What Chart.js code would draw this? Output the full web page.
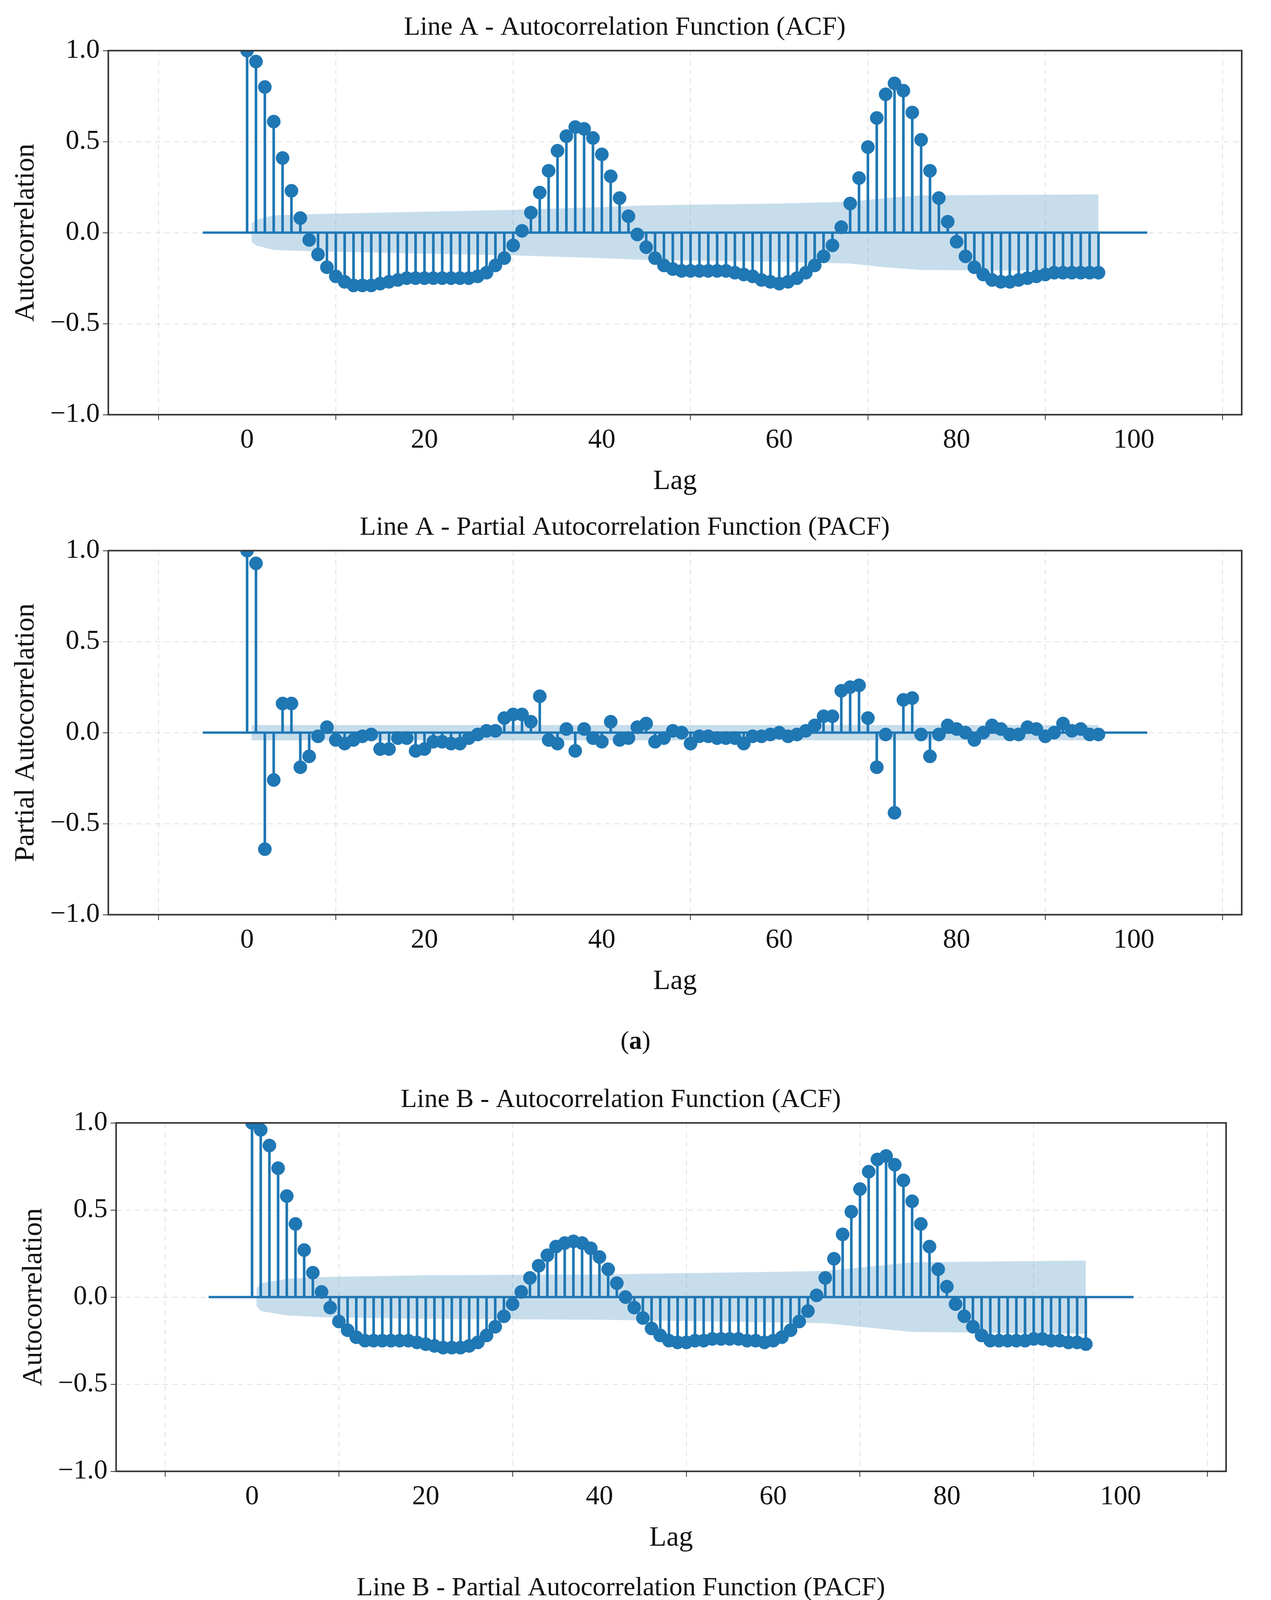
<!DOCTYPE html>
<html>
<head>
<meta charset="utf-8">
<script src="https://cdn.jsdelivr.net/npm/chart.js@4/dist/chart.umd.min.js"></script>
<style>
  body { margin: 0; background: #fff; width: 3255px; height: 5477px; position: relative; font-family: "Liberation Serif", serif; }
  .box { position: absolute; left: 0; }
  .cap { position: absolute; left: 0; width: 3255px; text-align: center; font-size: 66px; color: #111; }
</style>
</head>
<body>
<div class="box" style="top:10px"><canvas id="c1" width="3220" height="1270"></canvas></div>
<div class="box" style="top:1290px"><canvas id="c2" width="3220" height="1270"></canvas></div>
<div class="cap" style="top:2625px">(<b>a</b>)</div>
<div class="box" style="top:2755px"><canvas id="c3" width="3220" height="1230"></canvas></div>
<div class="box" style="top:4005px"><canvas id="c4" width="3220" height="1230"></canvas></div>
<div class="cap" style="top:5305px">(<b>b</b>)</div>
<script>
// lags 0..96
const lags = Array.from({ length: 97 }, (_, i) => i);

const acfA = [1.0, 0.94, 0.80, 0.61, 0.41, 0.23, 0.08, -0.04, -0.12, -0.19, -0.24, -0.27, -0.29, -0.29, -0.29, -0.28, -0.27, -0.26, -0.25, -0.25,
  -0.25, -0.25, -0.25, -0.25, -0.25, -0.25, -0.24, -0.22, -0.18, -0.14, -0.07, 0.01, 0.11, 0.22, 0.34, 0.45, 0.53, 0.58, 0.57, 0.52,
  0.43, 0.31, 0.19, 0.09, -0.01, -0.08, -0.14, -0.18, -0.20, -0.21, -0.21, -0.21, -0.21, -0.21, -0.21, -0.22, -0.23, -0.24, -0.26, -0.27,
  -0.28, -0.27, -0.25, -0.22, -0.18, -0.13, -0.07, 0.03, 0.16, 0.30, 0.47, 0.63, 0.76, 0.82, 0.78, 0.66, 0.51, 0.34, 0.19, 0.06,
  -0.05, -0.13, -0.19, -0.23, -0.26, -0.27, -0.27, -0.26, -0.25, -0.24, -0.23, -0.22, -0.22, -0.22, -0.22, -0.22, -0.22];

const pacfA = [1.0, 0.93, -0.64, -0.26, 0.16, 0.16, -0.19, -0.13, -0.02, 0.03, -0.04, -0.06, -0.04, -0.02, -0.01, -0.09, -0.09, -0.03, -0.03, -0.10,
  -0.09, -0.05, -0.05, -0.06, -0.06, -0.03, -0.01, 0.01, 0.01, 0.08, 0.10, 0.10, 0.06, 0.20, -0.04, -0.06, 0.02, -0.10, 0.02, -0.03,
  -0.05, 0.06, -0.04, -0.03, 0.03, 0.05, -0.05, -0.03, 0.01, 0.00, -0.06, -0.02, -0.02, -0.03, -0.03, -0.03, -0.06, -0.02, -0.02, -0.01,
  0.00, -0.02, -0.01, 0.01, 0.04, 0.09, 0.09, 0.23, 0.25, 0.26, 0.08, -0.19, -0.01, -0.44, 0.18, 0.19, -0.01, -0.13, -0.01, 0.04,
  0.02, 0.00, -0.04, 0.00, 0.04, 0.02, -0.01, -0.01, 0.03, 0.02, -0.02, 0.00, 0.05, 0.01, 0.02, -0.01, -0.01];

const acfB = [1.0, 0.96, 0.87, 0.74, 0.58, 0.42, 0.27, 0.14, 0.03, -0.06, -0.14, -0.19, -0.23, -0.25, -0.25, -0.25, -0.25, -0.25, -0.25, -0.26,
  -0.27, -0.28, -0.29, -0.29, -0.29, -0.28, -0.26, -0.22, -0.17, -0.11, -0.04, 0.03, 0.11, 0.18, 0.24, 0.29, 0.31, 0.32, 0.31, 0.28,
  0.23, 0.16, 0.08, 0.00, -0.06, -0.12, -0.18, -0.22, -0.25, -0.26, -0.26, -0.25, -0.25, -0.24, -0.24, -0.24, -0.24, -0.25, -0.25, -0.26,
  -0.25, -0.23, -0.19, -0.14, -0.08, 0.01, 0.11, 0.22, 0.36, 0.49, 0.62, 0.72, 0.79, 0.81, 0.76, 0.67, 0.55, 0.42, 0.29, 0.16,
  0.06, -0.04, -0.11, -0.17, -0.22, -0.25, -0.25, -0.25, -0.25, -0.25, -0.24, -0.24, -0.25, -0.25, -0.26, -0.26, -0.27];

const pacfB = [1.0, 0.96, -0.81, -0.08, 0.18, 0.09, -0.09, -0.08, -0.08, 0.01, 0.04, 0.00, -0.03, -0.06, -0.03, -0.06, -0.12, 0.02, -0.05, -0.07,
  0.01, -0.02, -0.02, -0.08, 0.05, 0.06, 0.02, 0.02, 0.02, 0.02, 0.08, 0.00, -0.03, 0.05, -0.02, -0.02, 0.02, -0.13, -0.04, -0.09,
  -0.06, 0.03, 0.02, -0.08, -0.04, 0.01, -0.04, -0.01, -0.03, -0.04, -0.02, -0.06, -0.04, 0.01, -0.09, -0.08, -0.03, 0.01, 0.01, -0.03,
  0.08, 0.00, 0.02, 0.07, 0.12, 0.16, 0.16, 0.22, 0.21, 0.07, 0.02, -0.09, -0.21, -0.20, -0.13, 0.19, 0.08, -0.02, -0.06, -0.01,
  0.01, 0.00, 0.03, 0.00, -0.01, -0.03, 0.01, 0.02, -0.03, 0.02, 0.03, 0.00, -0.01, 0.02, 0.05, 0.00, -0.02];

// confidence band half-widths, read at a few lags
const bandAcfALags = [0.5, 1, 3, 6, 10, 20, 30, 40, 45, 60, 68, 72, 76, 96];
const bandAcfA = [0.05, 0.07, 0.095, 0.10, 0.105, 0.115, 0.125, 0.14, 0.15, 0.16, 0.17, 0.19, 0.205, 0.21];
const bandAcfBLags = [0.5, 1, 4, 8, 20, 40, 60, 66, 70, 76, 96];
const bandAcfB = [0.05, 0.08, 0.105, 0.115, 0.125, 0.13, 0.145, 0.15, 0.17, 0.20, 0.21];
const bandPacfLags = [0.5, 96];
const bandPacfA = [0.042, 0.042];
const bandPacfB = [0.045, 0.045];

const xTicks = [0, 20, 40, 60, 80, 100];
const yTicks = [-1.0, -0.5, 0.0, 0.5, 1.0];

const blue = '#1f77b4';
const bandColor = 'rgba(31,119,180,0.25)';
const font = 'Liberation Serif';

const frame = {
    id: 'frame',
    afterDraw(chart) {
        const a = chart.chartArea, c = chart.ctx;
        c.save();
        c.setLineDash([]);
        c.strokeStyle = '#333';
        c.lineWidth = 4;
        c.strokeRect(a.left, a.top, a.right - a.left, a.bottom - a.top);
        c.restore();
    }
};

function makeChart(id, title, yTitle, values, bandLags, band, pad) {
    const pts = lags.map((l, i) => ({ x: l, y: values[i] }));
    new Chart(document.getElementById(id), {
        data: {
            datasets: [
                { type: 'line', data: bandLags.map((l, i) => ({ x: l, y: band[i] })), borderWidth: 0, pointRadius: 0, backgroundColor: bandColor, fill: '+1', order: 5 },
                { type: 'line', data: bandLags.map((l, i) => ({ x: l, y: -band[i] })), borderWidth: 0, pointRadius: 0, backgroundColor: bandColor, fill: false, order: 5 },
                { type: 'line', data: [{ x: -5, y: 0 }, { x: 101.5, y: 0 }], borderColor: blue, borderWidth: 6, pointRadius: 0, order: 3 },
                { type: 'bar', data: pts, backgroundColor: blue, barThickness: 6, order: 2 },
                { type: 'scatter', data: pts, backgroundColor: blue, borderColor: blue, pointRadius: 17, order: 1 }
            ]
        },
        options: {
            responsive: false,
            animation: false,
            devicePixelRatio: 1,
            layout: { padding: pad },
            plugins: {
                legend: { display: false },
                tooltip: { enabled: false },
                title: { display: true, text: title, color: '#111', font: { family: font, size: 68, weight: 'normal' }, padding: { top: 0, bottom: 18 } }
            },
            scales: {
                x: {
                    type: 'linear', min: -5, max: 101.5,
                    afterBuildTicks: ax => { ax.ticks = xTicks.map(v => ({ value: v })); },
                    ticks: { color: '#111', font: { family: font, size: 70 }, padding: 10 },
                    grid: { color: 'rgba(0,0,0,0.12)', lineWidth: 2, tickLength: 14, tickColor: '#333', tickBorderDash: [] },
                    border: { display: false, dash: [14, 10] },
                    title: { display: true, text: 'Lag', color: '#111', font: { family: font, size: 72 }, padding: { top: 10 } }
                },
                y: {
                    min: -1, max: 1,
                    afterBuildTicks: ax => { ax.ticks = yTicks.map(v => ({ value: v })); },
                    ticks: { color: '#111', font: { family: font, size: 70 }, padding: 8, callback: v => (v < 0 ? '\u2212' : '') + Math.abs(v).toFixed(1) },
                    grid: { color: 'rgba(0,0,0,0.12)', lineWidth: 2, tickLength: 14, tickColor: '#333', tickBorderDash: [] },
                    border: { display: false, dash: [14, 10] },
                    title: { display: true, text: yTitle, color: '#111', font: { family: font, size: 72 }, padding: { bottom: 10 } }
                }
            }
        },
        plugins: [frame]
    });
}

makeChart('c1', 'Line A - Autocorrelation Function (ACF)', 'Autocorrelation', acfA, bandAcfALags, bandAcfA, { left: 20, right: 40, top: 20, bottom: 0 });
makeChart('c2', 'Line A - Partial Autocorrelation Function (PACF)', 'Partial Autocorrelation', pacfA, bandPacfLags, bandPacfA, { left: 20, right: 40, top: 20, bottom: 0 });
makeChart('c3', 'Line B - Autocorrelation Function (ACF)', 'Autocorrelation', acfB, bandAcfBLags, bandAcfB, { left: 40, right: 80, top: 20, bottom: 0 });
makeChart('c4', 'Line B - Partial Autocorrelation Function (PACF)', 'Partial Autocorrelation', pacfB, bandPacfLags, bandPacfB, { left: 40, right: 80, top: 20, bottom: 0 });
</script>
</body>
</html>
